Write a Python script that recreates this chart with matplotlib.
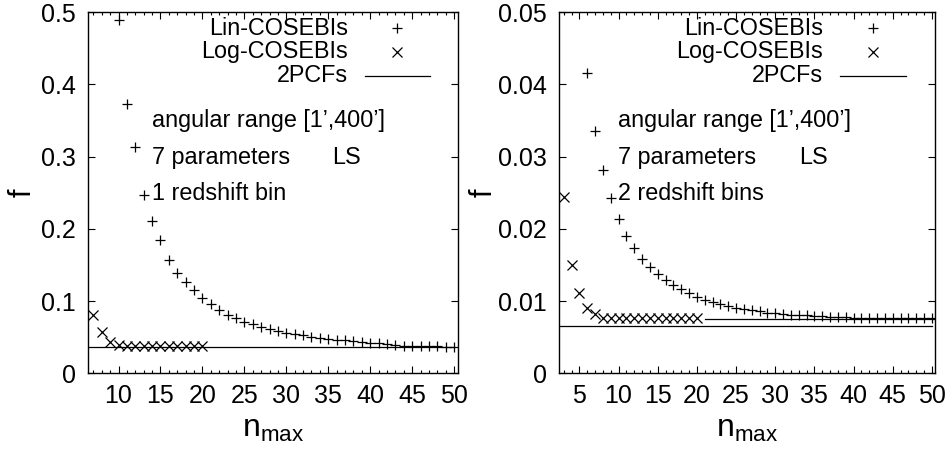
import matplotlib
matplotlib.use("Agg")
import matplotlib.pyplot as plt
from matplotlib.ticker import MultipleLocator
from matplotlib.lines import Line2D

plt.rcParams['font.family'] = ['Liberation Sans', 'DejaVu Sans']
plt.rcParams['mathtext.fontset'] = 'custom'
plt.rcParams['mathtext.rm'] = 'Liberation Sans'

# left panel: 1 redshift bin
n_lin_left = list(range(10, 51))
f_lin_left = [0.4894, 0.3733, 0.3129, 0.2461, 0.2111, 0.1843, 0.1567, 0.1392,
              0.1267, 0.1152, 0.1046, 0.0959, 0.0876, 0.0811, 0.0760, 0.0714,
              0.0677, 0.0645, 0.0608, 0.0581, 0.0562, 0.0539, 0.0525, 0.0507,
              0.0493, 0.0479, 0.0465, 0.0456, 0.0442, 0.0433, 0.0424, 0.0415,
              0.0404, 0.0392, 0.0382, 0.0377, 0.0374, 0.0372, 0.0371, 0.0370,
              0.0369]
n_log_left = list(range(7, 21))
f_log_left = [0.0810, 0.0567, 0.0437, 0.0392, 0.0381, 0.0378, 0.0377, 0.0376,
              0.0376, 0.0375, 0.0375, 0.0375, 0.0375, 0.0375]
pcf_left_x = [6.4, 50]
pcf_left_y = [0.0369, 0.0369]

# right panel: 2 redshift bins
n_lin_right = list(range(6, 51))
f_lin_right = [0.0415, 0.0336, 0.0282, 0.0243, 0.0213, 0.0190, 0.0173, 0.0158,
               0.0147, 0.0137, 0.0129, 0.0122, 0.0116, 0.0111, 0.0106, 0.0102,
               0.0099, 0.0096, 0.0093, 0.0091, 0.0089, 0.0087, 0.0086, 0.0084,
               0.0083, 0.0082, 0.0081, 0.0080, 0.0080, 0.0079, 0.0079, 0.0078,
               0.0078, 0.0078, 0.0077, 0.0077, 0.0077, 0.0077, 0.0076, 0.0076,
               0.0076, 0.0076, 0.0076, 0.0076, 0.0076]
n_log_right = list(range(3, 21))
f_log_right = [0.0244, 0.0150, 0.0111, 0.0091, 0.0082, 0.0077, 0.0076, 0.0076,
               0.0076, 0.0076, 0.0076, 0.0076, 0.0076, 0.0076, 0.0076, 0.0076,
               0.0076, 0.0076]
pcf_right_x = [2.4, 50]
pcf_right_y = [0.00654, 0.00654]
pcf2_right_x = [21, 50.4]
pcf2_right_y = [0.00755, 0.00755]

fig = plt.figure(figsize=(9.51, 4.55), dpi=100)
ax1 = fig.add_axes([88.3 / 951, 1 - 373.3 / 455, 370 / 951, 361.3 / 455])
ax2 = fig.add_axes([559 / 951, 1 - 373.3 / 455, 376 / 951, 361.3 / 455])

ms = 7.5
lw = 0.9
for ax, nl, fl, ng, fg in [(ax1, n_lin_left, f_lin_left, n_log_left, f_log_left),
                           (ax2, n_lin_right, f_lin_right, n_log_right, f_log_right)]:
    ax.plot(nl, fl, ls='none', marker='+', ms=ms, mew=lw, color='black')
    ax.plot(ng, fg, ls='none', marker='x', ms=ms * 0.9, mew=lw, color='black')

ax1.plot(pcf_left_x, pcf_left_y, color='black', lw=lw)
ax2.plot(pcf_right_x, pcf_right_y, color='black', lw=lw)
ax2.plot(pcf2_right_x, pcf2_right_y, color='black', lw=lw)

ax1.set_xlim(6.4, 50.5)
ax1.set_ylim(0, 0.5)
ax1.set_xticks(range(10, 51, 5))
ax1.set_yticks([0, 0.1, 0.2, 0.3, 0.4, 0.5])
ax1.set_yticklabels(['0', '0.1', '0.2', '0.3', '0.4', '0.5'])

ax2.set_xlim(2.4, 50.4)
ax2.set_ylim(0, 0.05)
ax2.set_xticks(range(5, 51, 5))
ax2.set_yticks([0, 0.01, 0.02, 0.03, 0.04, 0.05])
ax2.set_yticklabels(['0', '0.01', '0.02', '0.03', '0.04', '0.05'])

texts = {ax1: '1 redshift bin', ax2: '2 redshift bins'}
txt_x = {ax1: 0.171, ax2: 0.156}
ls_x = {ax1: 0.659, ax2: 0.638}
ypad = {ax1: 2.5, ax2: -0.5}
for ax in (ax1, ax2):
    ax.xaxis.set_minor_locator(MultipleLocator(1))
    ax.tick_params(which='both', direction='in', top=True, right=True,
                   labelsize=18, width=0.8)
    ax.tick_params(which='major', length=5)
    ax.tick_params(which='minor', length=2.5)
    ax.tick_params(axis='x', pad=8)
    ax.tick_params(axis='y', pad=9)
    for s in ax.spines.values():
        s.set_linewidth(1.0)
    ax.set_ylabel('f', fontsize=22, labelpad=ypad[ax])
    ax.set_xlabel(r'$\mathregular{n_{max}}$', fontsize=23, labelpad=4)

    # gnuplot style key: right aligned text with sample to the right
    fs = 16.8
    ax.text(0.702, 0.955, 'Lin-COSEBIs', transform=ax.transAxes,
            ha='right', va='center', fontsize=fs)
    ax.text(0.702, 0.890, 'Log-COSEBIs', transform=ax.transAxes,
            ha='right', va='center', fontsize=fs)
    ax.text(0.702, 0.823, '2PCFs', transform=ax.transAxes,
            ha='right', va='center', fontsize=fs)
    ax.add_line(Line2D([0.835], [0.955], transform=ax.transAxes, marker='+',
                       ms=ms, mew=lw, color='black', ls='none'))
    ax.add_line(Line2D([0.835], [0.890], transform=ax.transAxes, marker='x',
                       ms=ms * 0.9, mew=lw, color='black', ls='none'))
    ax.add_line(Line2D([0.748, 0.924], [0.823, 0.823], transform=ax.transAxes,
                       color='black', lw=lw))

    ax.text(txt_x[ax], 0.701, 'angular range [1\u2019,400\u2019]',
            transform=ax.transAxes, ha='left', va='center', fontsize=fs)
    ax.text(txt_x[ax], 0.598, '7 parameters', transform=ax.transAxes,
            ha='left', va='center', fontsize=fs)
    ax.text(ls_x[ax], 0.598, 'LS', transform=ax.transAxes,
            ha='left', va='center', fontsize=fs)
    ax.text(txt_x[ax], 0.498, texts[ax], transform=ax.transAxes,
            ha='left', va='center', fontsize=fs)

fig.savefig('out.png', dpi=100)
